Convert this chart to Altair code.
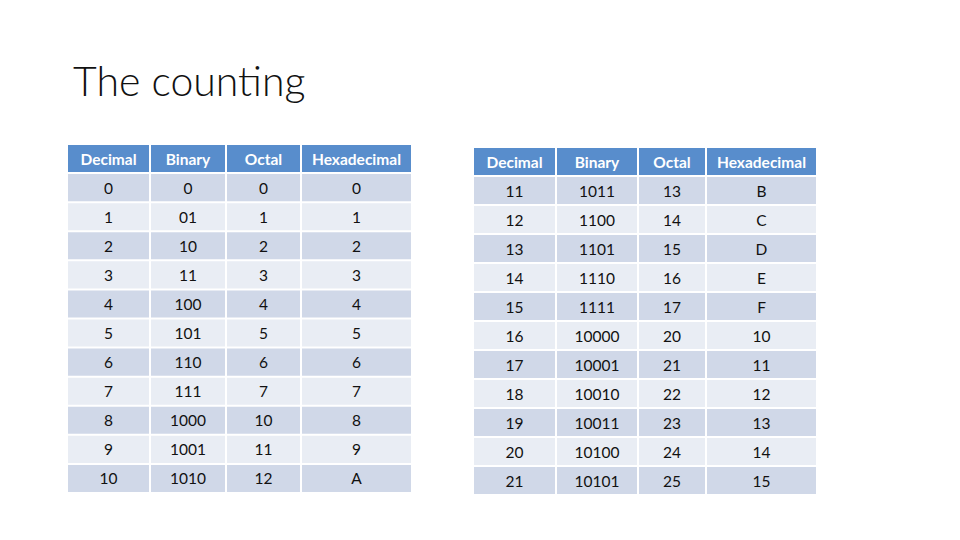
import altair as alt
import pandas as pd

# ---- data ----
headers = ["Decimal", "Binary", "Octal", "Hexadecimal"]
decimal = ["0", "1", "2", "3", "4", "5", "6", "7", "8", "9", "10",
           "11", "12", "13", "14", "15", "16", "17", "18", "19", "20", "21"]
binary = ["0", "01", "10", "11", "100", "101", "110", "111", "1000", "1001", "1010",
          "1011", "1100", "1101", "1110", "1111", "10000", "10001", "10010", "10011", "10100", "10101"]
octal = ["0", "1", "2", "3", "4", "5", "6", "7", "10", "11", "12",
         "13", "14", "15", "16", "17", "20", "21", "22", "23", "24", "25"]
hexa = ["0", "1", "2", "3", "4", "5", "6", "7", "8", "9", "A",
        "B", "C", "D", "E", "F", "10", "11", "12", "13", "14", "15"]
title_text = "The counting"

# ---- layout (page pixel coordinates) ----
tables = [
    {"cols": [67, 150, 226, 301, 412], "top": 144, "bottom": 493, "start": 0},
    {"cols": [473, 556, 638, 706, 817], "top": 147, "bottom": 495, "start": 11},
]
HEADER = "#588DCC"
DARK = "#D0D8E8"
LIGHT = "#E9EDF4"

columns = [decimal, binary, octal, hexa]
rows = []
for t in tables:
    nrows = 12
    h = (t["bottom"] - t["top"]) / nrows
    for r in range(nrows):
        y0 = t["top"] + r * h
        y1 = y0 + h
        for c in range(4):
            x0, x1 = t["cols"][c], t["cols"][c + 1]
            if r == 0:
                txt, fill, kind = headers[c], HEADER, "head"
            else:
                txt = columns[c][t["start"] + r - 1]
                fill = DARK if r % 2 == 1 else LIGHT
                kind = "body"
            rows.append({"x": x0 + 1, "x2": x1 - 1, "y": y0 + 1, "y2": y1 - 1,
                         "xc": (x0 + x1) / 2, "yc": (y0 + y1) / 2 + 1,
                         "fill": fill, "text": txt, "kind": kind})
df = pd.DataFrame(rows)

W, H = 944, 524
xs = alt.Scale(domain=[8, 8 + W], range=[0, W])
ys = alt.Scale(domain=[8, 8 + H], range=[0, H])

base = alt.Chart(df)
cells = base.mark_rect().encode(
    x=alt.X("x:Q", scale=xs, axis=None),
    x2="x2:Q",
    y=alt.Y("y:Q", scale=ys, axis=None),
    y2="y2:Q",
    color=alt.Color("fill:N", scale=None),
)
head_txt = base.transform_filter(alt.datum.kind == "head").mark_text(
    font="Lato", fontSize=15.5, fontWeight="bold", color="white",
    align="center", baseline="middle"
).encode(x=alt.X("xc:Q", scale=xs, axis=None), y=alt.Y("yc:Q", scale=ys, axis=None), text="text:N")
body_txt = base.transform_filter(alt.datum.kind == "body").mark_text(
    font="Lato", fontSize=15.5, color="#111111",
    align="center", baseline="middle"
).encode(x=alt.X("xc:Q", scale=xs, axis=None), y=alt.Y("yc:Q", scale=ys, axis=None), text="text:N")

title_df = pd.DataFrame({"tx": [73], "ty": [96], "t": [title_text]})
title = alt.Chart(title_df).mark_text(
    font="Lato", fontSize=41, fontWeight=300, color="#111111",
    align="left", baseline="alphabetic"
).encode(x=alt.X("tx:Q", scale=xs, axis=None), y=alt.Y("ty:Q", scale=ys, axis=None), text="t:N")

chart = alt.layer(cells, head_txt, body_txt, title).properties(
    width=W, height=H, padding=0, autosize=alt.AutoSizeParams(type="none")
).configure(background="white", view=alt.ViewConfig(stroke=None))

chart.save("out.html", embed_options={"renderer": "svg", "actions": False})
